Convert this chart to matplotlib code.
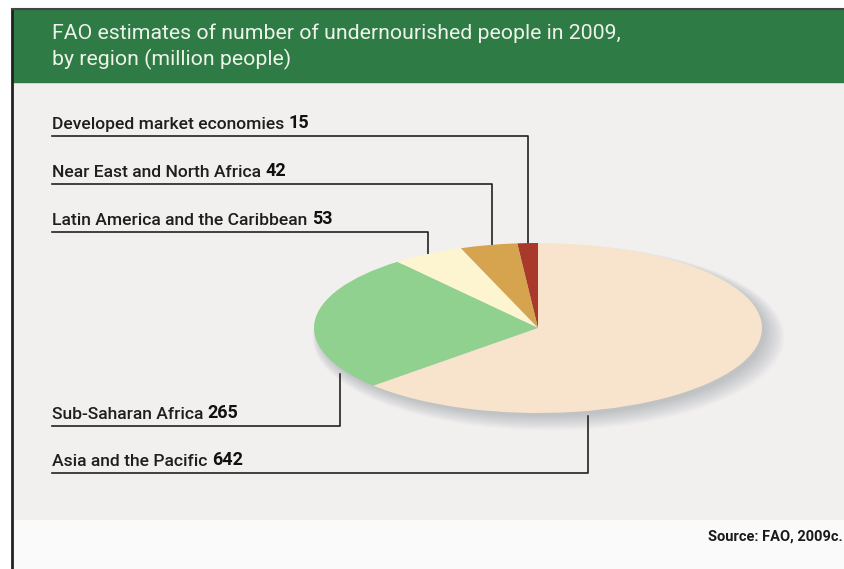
import matplotlib.pyplot as plt
from matplotlib.patches import Rectangle, Ellipse

# data (million people, 2009)
regions = ["Developed market economies", "Near East and North Africa",
           "Latin America and the Caribbean", "Sub-Saharan Africa",
           "Asia and the Pacific"]
values = [15, 42, 53, 265, 642]
colors = ["#a93a2b", "#d6a44f", "#fcf5d0", "#90d18f", "#f8e4cd"]

W, H = 845, 569
font = ["Roboto", "DejaVu Sans"]

fig = plt.figure(figsize=(W / 100, H / 100), dpi=100)
fig.patch.set_facecolor("white")

# main axes in pixel coordinates
ax = fig.add_axes([0, 0, 1, 1])
ax.set_xlim(0, W)
ax.set_ylim(H, 0)
ax.axis("off")

# panel background, header and frame
ax.add_patch(Rectangle((12, 10), W - 12, 510, color="#f2f0ee", zorder=0))
ax.add_patch(Rectangle((12, 520), W - 12, H - 520, color="#fafafa", zorder=0))
ax.add_patch(Rectangle((12, 10), W - 12, 72, color="#2f7b46", zorder=1))
ax.plot([12, 12], [9, H], color="#222222", lw=2, zorder=2)
ax.plot([12, W], [9, 9], color="#444444", lw=1.5, zorder=2)

ax.text(52, 33, "FAO estimates of number of undernourished people in 2009,",
        color="#eef3ea", fontsize=15.3, family=font, va="center")
ax.text(52, 59, "by region (million people)",
        color="#eef3ea", fontsize=15.3, family=font, va="center")

# soft shadow of the pie
for i in range(14):
    ax.add_patch(Ellipse((542 + i * 0.5, 332 + i * 0.4), 446 + i * 2.0, 168 + i * 1.4,
                         color="#5a6470", alpha=0.022, lw=0, zorder=3))

# pie, stretched to an ellipse by the axes shape
pax = fig.add_axes([314 / W, 1 - 413 / H, 448 / W, 170 / H])
pax.pie(values, colors=colors, startangle=90, counterclock=True,
        wedgeprops=dict(linewidth=0))
pax.set_xlim(-1, 1)
pax.set_ylim(-1, 1)
pax.set_aspect("auto")
pax.patch.set_alpha(0)

# labels with leader lines: (text baseline y, underline y, line x, pie edge y)
label_y = [129, 177, 225, 419, 466]
under_y = [136, 184, 232, 426, 473]
lead_x = [528, 492, 428, 340, 588]
edge_y = [246, 248, 256, 374, 416]

for name, v, ty, uy, lx, ey in zip(regions, values, label_y, under_y, lead_x, edge_y):
    t = ax.text(52, ty, name + " ", fontsize=12.6, family=font,
                color="#1e1e1e", va="baseline", fontweight="medium")
    ax.annotate(str(v), xy=(1, 0), xycoords=t, va="bottom", ha="left",
                fontsize=13, family=font, fontweight="bold", color="#111111")
    ax.plot([52, lx, lx], [uy, uy, ey], color="#222222", lw=1.2, zorder=2)

ax.text(843, 537, "Source: FAO, 2009c.", ha="right", va="center",
        fontsize=10.5, family=font, fontweight="bold", color="#1a1a1a")

fig.savefig("out.png", dpi=100)
